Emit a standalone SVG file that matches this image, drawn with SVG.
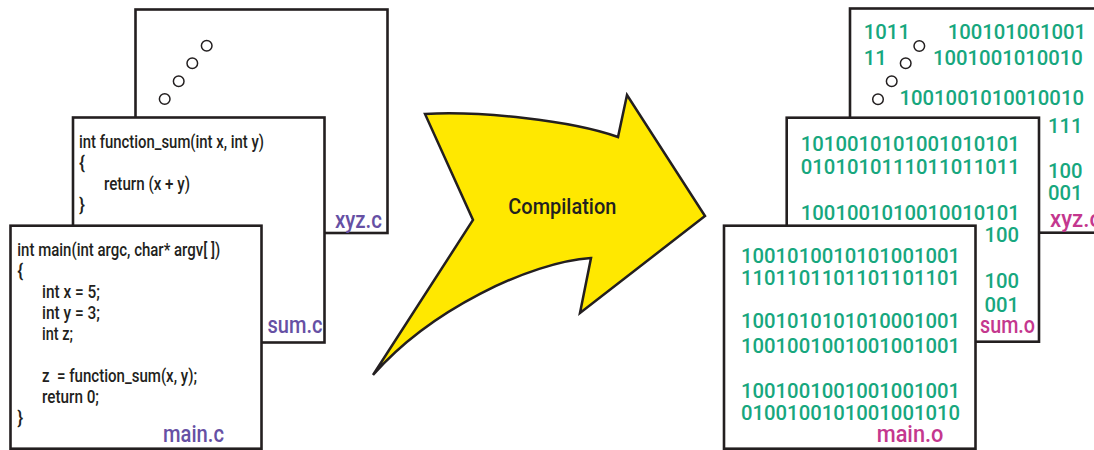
<svg xmlns="http://www.w3.org/2000/svg" width="1094" height="450" viewBox="0 0 1094 450">
<style>
.box{fill:#fff;stroke:#231F20;stroke-width:2.6}
.dot{fill:#fff;stroke:#231F20;stroke-width:1.5}
.code{font-family:Roboto,"Liberation Sans",Arial,sans-serif;font-weight:500;font-size:18px;fill:#231F20}
.lblc{font-family:Roboto,"Liberation Sans",Arial,sans-serif;font-weight:500;font-size:24px;fill:#6650A4}
.lblo{font-family:Roboto,"Liberation Sans",Arial,sans-serif;font-weight:500;font-size:24px;fill:#C4378E}
.bin{font-family:Roboto,"Liberation Sans",Arial,sans-serif;font-weight:500;font-size:20.3px;fill:#17A77E}
.arrow{fill:#FFE800;stroke:#231F20;stroke-width:2.5;stroke-linejoin:miter}
.cap{font-family:Roboto,"Liberation Sans",Arial,sans-serif;font-weight:500;font-size:22px;fill:#231F20}
</style>
<rect width="1094" height="450" fill="#fff"/>

<g id="xyz_c">
<rect class="box" x="135.5" y="9.5" width="252" height="223.5"/>
<circle class="dot" cx="206.7" cy="45.7" r="5.3"/>
<circle class="dot" cx="192.3" cy="63.3" r="5.3"/>
<circle class="dot" cx="178.7" cy="81.3" r="5.3"/>
<circle class="dot" cx="164.7" cy="99" r="5.3"/>
<text class="lblc" x="335" y="227.5" textLength="47" lengthAdjust="spacingAndGlyphs">xyz.c</text>
</g>

<g id="sum_c">
<rect class="box" x="73" y="117.5" width="251.5" height="225"/>
<text class="code" x="79" y="148" textLength="185" lengthAdjust="spacingAndGlyphs">int function_sum(int x, int y)</text>
<text class="code" x="79" y="169">{</text>
<text class="code" x="104" y="190" textLength="86" lengthAdjust="spacingAndGlyphs">return (x + y)</text>
<text class="code" x="79" y="211">}</text>
<text class="lblc" x="267.5" y="333.3" textLength="55" lengthAdjust="spacingAndGlyphs">sum.c</text>
</g>

<g id="main_c">
<rect class="box" x="10.5" y="225.7" width="251" height="223"/>
<text class="code" x="17.3" y="256" textLength="203" lengthAdjust="spacingAndGlyphs">int main(int argc, char* argv[ ])</text>
<text class="code" x="17.3" y="277">{</text>
<text class="code" x="42" y="298" textLength="58" lengthAdjust="spacingAndGlyphs">int x = 5;</text>
<text class="code" x="42" y="319" textLength="58" lengthAdjust="spacingAndGlyphs">int y = 3;</text>
<text class="code" x="42" y="340" textLength="31" lengthAdjust="spacingAndGlyphs">int z;</text>
<text class="code" x="42" y="382" textLength="155" lengthAdjust="spacingAndGlyphs" xml:space="preserve">z  = function_sum(x, y);</text>
<text class="code" x="42" y="403" textLength="57" lengthAdjust="spacingAndGlyphs">return 0;</text>
<text class="code" x="17.3" y="424">}</text>
<text class="lblc" x="163" y="441.7" textLength="61" lengthAdjust="spacingAndGlyphs">main.c</text>
</g>

<g id="compilation">
<path class="arrow" d="M425,114 C480,111 570,120 618,137 L627,95 L705,216 L580,313 L591,258 C530,262 430,310 373,375 L473,220 Z"/>
<text class="cap" x="508.3" y="214" textLength="108" lengthAdjust="spacingAndGlyphs">Compilation</text>
</g>

<g id="xyz_o">
<rect class="box" x="850" y="8.5" width="260" height="224.2"/>
<text class="bin" x="863.8" y="39.3">1011</text>
<text class="bin" x="947.7" y="39.3">100101001001</text>
<text class="bin" x="863.8" y="65">11</text>
<text class="bin" x="933" y="65">1001001010010</text>
<text class="bin" x="899.5" y="105">1001001010010010</text>
<text class="bin" x="1048" y="133.3">111</text>
<text class="bin" x="1048" y="178.3">100</text>
<text class="bin" x="1048" y="200">001</text>
<circle class="dot" cx="919.3" cy="46" r="5.3"/>
<circle class="dot" cx="905.7" cy="63.3" r="5.3"/>
<circle class="dot" cx="891.7" cy="81.3" r="5.3"/>
<circle class="dot" cx="878" cy="99.3" r="5.3"/>
<text class="lblo" x="1050" y="226.5" textLength="52" lengthAdjust="spacingAndGlyphs">xyz.o</text>
</g>

<g id="sum_o">
<rect class="box" x="786.7" y="117.7" width="252.3" height="224"/>
<text class="bin" x="800.8" y="151">1010010101001010101</text>
<text class="bin" x="800.8" y="174.3">0101010111011011011</text>
<text class="bin" x="800.8" y="220">1001001010010010101</text>
<text class="bin" x="984.5" y="241.7">100</text>
<text class="bin" x="984.5" y="287.5">100</text>
<text class="bin" x="984.5" y="311.5">001</text>
<text class="lblo" x="980" y="333" textLength="55" lengthAdjust="spacingAndGlyphs">sum.o</text>
</g>

<g id="main_o">
<rect class="box" x="724" y="225.7" width="251.5" height="223"/>
<text class="bin" x="741" y="262.7">1001010010101001001</text>
<text class="bin" x="741" y="285">1101101101101101101</text>
<text class="bin" x="741" y="328.3">1001010101010001001</text>
<text class="bin" x="741" y="353.3">1001001001001001001</text>
<text class="bin" x="741" y="398.3">1001001001001001001</text>
<text class="bin" x="741" y="420.3">0100100101001001010</text>
<text class="lblo" x="876.7" y="442" textLength="66.7" lengthAdjust="spacingAndGlyphs">main.o</text>
</g>

<g id="connectors"></g>
</svg>
